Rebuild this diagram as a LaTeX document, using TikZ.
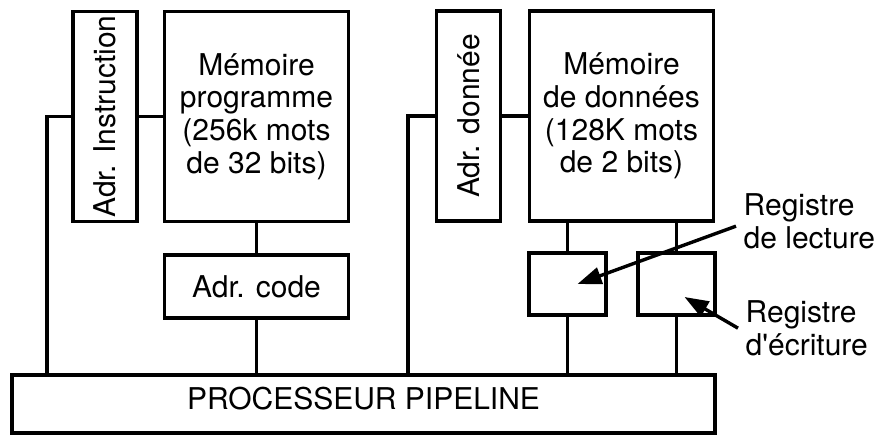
\documentclass[tikz,border=0pt]{standalone}
\usepackage{fontspec}
\setmainfont{TeX Gyre Heros}
\usetikzlibrary{arrows.meta, positioning, calc}

\begin{document}
\begin{tikzpicture}[x=0.5pt,y=0.5pt,>={Triangle[length=12pt,width=8.5pt]},line width=1.7pt,
        font=\fontsize{15}{16.3}\selectfont,
        blk/.style={draw, inner sep=0pt, align=center},
        mem/.style={blk, minimum width=92pt, minimum height=105pt},
        adr/.style={blk, minimum width=32pt, minimum height=105pt},
        reg/.style={blk, minimum width=38.5pt, minimum height=31pt},
        lbl/.style={align=left, inner sep=0pt, anchor=north west}]
        \useasboundingbox (0,0) rectangle (880,436);
        \node[blk, minimum width=351.5pt, minimum height=29pt, text depth=6pt] (proc) at (363.5,32) {PROCESSEUR PIPELINE};
        \node[adr] (adri) at (105,319.5) {\rotatebox{90}{Adr. Instruction}};
        \node[mem] (memp) at (256.5,319.5) {Mémoire\\programme\\(256k mots\\de 32 bits)};
        \node[blk, minimum width=92pt, minimum height=31.5pt, below=15pt of memp] (code) {Adr. code};
        \node[adr] (adrd) at (468.5,320) {\rotatebox{90}{Adr. donnée}};
        \node[mem] (memd) at (621.5,320) {Mémoire\\de données\\(128K mots\\de 2 bits)};
        \node[reg] (lect) at (567.5,152) {};
        \node[reg] (ecr) at (676.5,152) {};
        \node[lbl] (lectlbl) at (742,244) {Registre\\de lecture};
        \node[lbl] (ecrlbl) at (744,137) {Registre\\d\textquotesingle écriture};
        % bus lines
        \coordinate (busi) at (47,0);
        \coordinate (busd) at (408,0);
        \draw (adri.west) -| (busi |- proc.north);
        \draw (adrd.west) -| (busd |- proc.north);
        \draw (adri) -- (memp);
        \draw (adrd) -- (memd);
        \draw (memp) -- (code);
        \draw (code) -- (code |- proc.north);
        \foreach \r in {lect,ecr} {
            \draw (\r) -- (\r |- memd.south);
            \draw (\r) -- (\r |- proc.north);
        }
        \draw[->] ([xshift=-3pt,yshift=-2.5pt]lectlbl.west) -- ([xshift=5pt]lect.center);
        \draw[->] ([xshift=-3pt]ecrlbl.west) -- ([xshift=4pt,yshift=-6.5pt]ecr.center);
    \end{tikzpicture}
\end{document}
